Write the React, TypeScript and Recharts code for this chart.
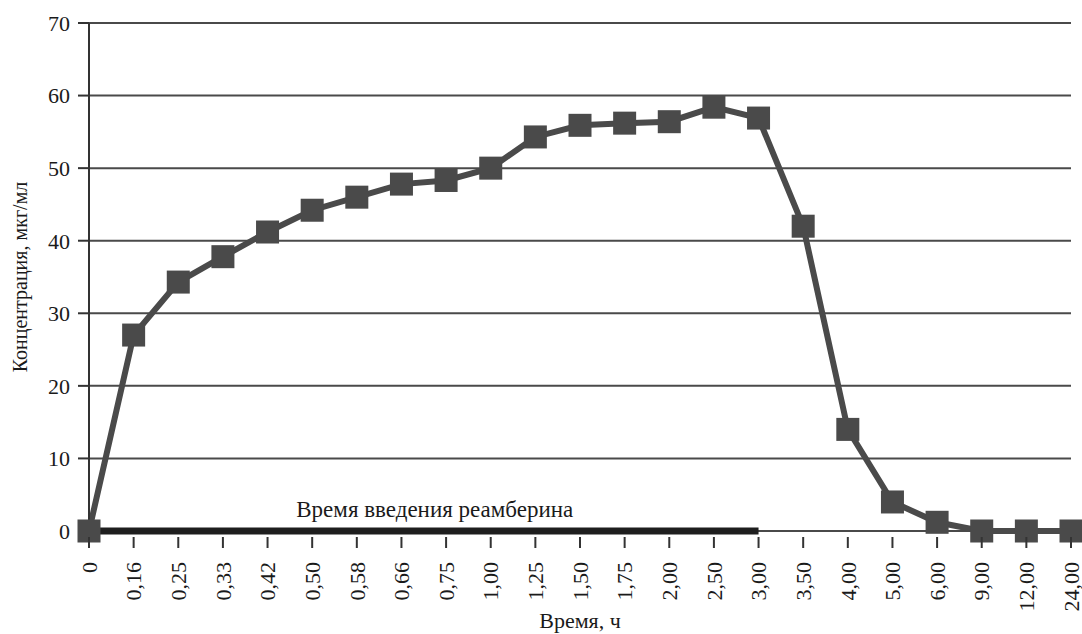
import { LineChart, Line, XAxis, YAxis, CartesianGrid, ReferenceLine, Label } from 'recharts'

const times = ['0', '0,16', '0,25', '0,33', '0,42', '0,50', '0,58', '0,66', '0,75', '1,00', '1,25', '1,50', '1,75', '2,00', '2,50', '3,00', '3,50', '4,00', '5,00', '6,00', '9,00', '12,00', '24,00']
const concentration = [0, 27, 34.3, 37.8, 41.2, 44.2, 46, 47.8, 48.3, 50, 54.3, 55.9, 56.2, 56.4, 58.4, 56.9, 42, 14, 4, 1.2, 0, 0, 0]
const yTicks = [0, 10, 20, 30, 40, 50, 60, 70]
const infusionStart = '0'
const infusionEnd = '3,00'

const chartData = times.map((t, i) => ({ time: t, value: concentration[i] }))

const FONT = 'Liberation Serif, DejaVu Serif, serif'

const RotatedTick = (props: any) => {
  const { x, y, payload } = props
  const ty = y + 13
  return (
    <g>
      <line x1={x} y1={y - 12} x2={x} y2={y - 1} stroke="#333" strokeWidth={2} />
      <text
        x={x}
        y={ty}
        transform={`rotate(-90, ${x}, ${ty})`}
        textAnchor="end"
        dy="0.35em"
        fontSize={22}
        fontFamily={FONT}
        fill="#1a1a1a"
      >
        {payload.value}
      </text>
    </g>
  )
}

const SquareDot = (props: any) => {
  const { cx, cy, index } = props
  const s = 23
  return <rect key={`dot-${index}`} x={cx - s / 2} y={cy - s / 2} width={s} height={s} fill="#4a4a4a" />
}

export default function App() {
  return (
    <div style={{ position: 'fixed', left: 0, top: 0, background: '#fff', fontFamily: FONT }}>
      <LineChart
        width={1082}
        height={634}
        data={chartData}
        margin={{ top: 23, right: 11, left: 0, bottom: 0 }}
        style={{ fontFamily: FONT }}
      >
        <CartesianGrid vertical={false} stroke="#4a4a4a" strokeWidth={2} />
        <XAxis
          dataKey="time"
          interval={0}
          axisLine={false}
          tickLine={false}
          height={103}
          tick={<RotatedTick />}
          tickMargin={12}
        >
          <Label
            value="Время, ч"
            position="insideBottom"
            offset={6}
            style={{ fontSize: 22, fontFamily: FONT, fill: '#1a1a1a' }}
          />
        </XAxis>
        <YAxis
          domain={[0, 70]}
          ticks={yTicks}
          width={89}
          axisLine={{ stroke: '#333', strokeWidth: 2 }}
          tickLine={{ stroke: '#333', strokeWidth: 2 }}
          tickSize={11}
          tickMargin={8}
          tick={{ fontSize: 22, fontFamily: FONT, fill: '#1a1a1a' }}
        >
          <Label
            value="Концентрация, мкг/мл"
            angle={-90}
            position="insideLeft"
            offset={20}
            style={{ textAnchor: 'middle', fontSize: 20, fontFamily: FONT, fill: '#1a1a1a' }}
          />
        </YAxis>
        <ReferenceLine
          segment={[{ x: infusionStart, y: 0 }, { x: infusionEnd, y: 0 }]}
          stroke="#1e1e1e"
          strokeWidth={7}
          ifOverflow="visible"
        >
          <Label
            value="Время введения реамберина"
            position="top"
            offset={14}
            dx={11}
            style={{ fontSize: 23, fontFamily: FONT, fill: '#1a1a1a' }}
          />
        </ReferenceLine>
        <Line
          type="linear"
          dataKey="value"
          stroke="#4a4a4a"
          strokeWidth={6}
          dot={SquareDot}
          activeDot={false}
          isAnimationActive={false}
        />
      </LineChart>
    </div>
  )
}
